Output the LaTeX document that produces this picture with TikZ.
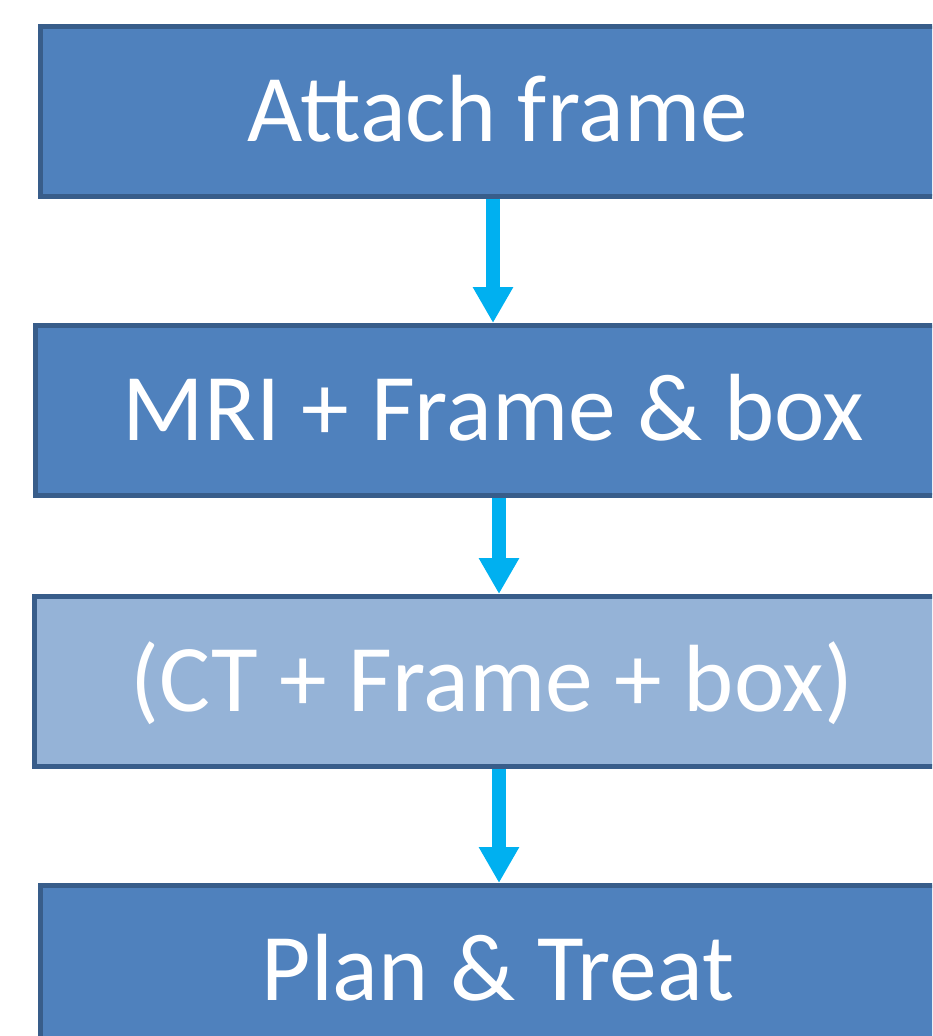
\documentclass[tikz,border=0pt]{standalone}
\usepackage{fontspec}
\setmainfont{Carlito}
\usepackage{tikz}
\usetikzlibrary{arrows.meta}

\definecolor{boxblue}{HTML}{4F81BD}
\definecolor{boxedge}{HTML}{385D8A}
\definecolor{boxlight}{HTML}{95B3D7}
\definecolor{arrowcyan}{HTML}{00B0F0}

\begin{document}
\begin{tikzpicture}[x=1pt,y=-1pt,
    stage/.style={draw=boxedge,line width=5pt,fill=boxblue,text=white,anchor=west,
      minimum width=916pt,minimum height=170pt,inner sep=0pt,outer sep=0pt,
      text height=60pt,text depth=0pt,font=\fontsize{95.5}{112}\selectfont},
    flow/.style={arrowcyan,line width=13.5pt,shorten <=2.5pt,shorten >=2pt,
      -{Triangle[width=38pt,length=36pt]}}]
          \useasboundingbox (0,0) rectangle (932,1036);
          \clip (0,0) rectangle (932,1036);
          \node[stage] (attach) at (40,111) {Attach frame};
          \node[stage] (mri) at (35.5,410) {MRI + Frame \& box};
          \node[stage,fill=boxlight] (ct) at (34,681) {(CT + Frame + box)};
          \node[stage] (treat) at (40,970) {Plan \& Treat};
          \draw[flow] ([xshift=-5pt]attach.south) -- ([xshift=-5pt]attach.south |- mri.north);
          \draw[flow] ([xshift=5.5pt]mri.south) -- ([xshift=5.5pt]mri.south |- ct.north);
          \draw[flow] ([xshift=7pt]ct.south) -- ([xshift=7pt]ct.south |- treat.north);
        \end{tikzpicture}
\end{document}
